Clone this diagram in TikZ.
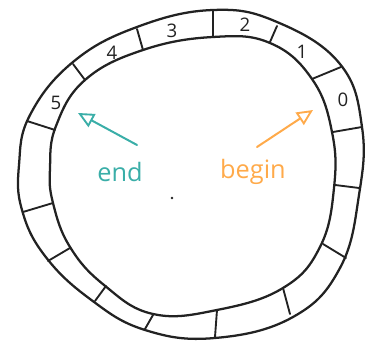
\documentclass[tikz,border=0pt]{standalone}
\usepackage{fontspec}
\setmainfont{Open Sans}
\usetikzlibrary{arrows.meta}
\definecolor{ink}{HTML}{222222}
\definecolor{tealc}{HTML}{3AAEA8}
\definecolor{orangec}{HTML}{FFAA4A}
\tikzset{
  ring/.style={draw=ink, line width=1.7pt, line join=round},
  tick/.style={draw=ink, line width=1.4pt, line cap=round},
  digit/.style={text=ink, font=\fontsize{14}{14}\selectfont},
  ptr/.style={line width=1.5pt, line cap=round, -{Triangle[open, length=12pt, width=11pt, line width=1.4pt]}},
  word/.style={font=\fontsize{19}{19}\selectfont}
}
\begin{document}
\begin{tikzpicture}[x=0.75pt,y=-0.75pt]
\useasboundingbox (0,0) rectangle (365,341);
% outer ring
\draw[ring] plot[smooth cycle, tension=0.7] coordinates {
 (213,10) (277,22) (340,64) (362,127) (359,195) (340,268) (293,317) (215,338)
 (145,330) (90,299) (45,256) (22,210) (19,165) (30,115) (73,62) (137,27)};
% inner ring
\draw[ring] plot[smooth cycle, tension=0.7] coordinates {
 (213,37) (270,43) (312,79) (332,132) (334,188) (320,247) (283,288) (217,310)
 (153,314) (104,285) (70,247) (53,203) (50,168) (56,126) (85,80) (143,50)};
% ticks
\draw[tick] (213,11) -- (213,37);
\draw[tick] (277,26) -- (270,42);
\draw[tick] (341,67) -- (312,79);
\draw[tick] (362,127) -- (333,132);
\draw[tick] (359,188) -- (335,185);
\draw[tick] (346,258) -- (323,244);
\draw[tick] (290,314) -- (283,288);
\draw[tick] (215,337) -- (217,310);
\draw[tick] (145,329) -- (153,315);
\draw[tick] (95,301) -- (106,286);
\draw[tick] (48,261) -- (70,248);
\draw[tick] (23,212) -- (53,203);
\draw[tick] (27,121) -- (55,130);
\draw[tick] (73,64) -- (85,80);
\draw[tick] (137,29) -- (143,50);
% labels
\node[digit] (l0) at (343,100) {0};
\node[digit] (l1) at (302,52) {1};
\node[digit] (l2) at (245,25) {2};
\node[digit] (l3) at (172,31) {3};
\node[digit] (l4) at (112,53) {4};
\node[digit] (l5) at (56,103) {5};
% pointers
\node[word, text=tealc] (endw) at (120,172) {end};
\node[word, text=orangec] (beginw) at (253,172) {begin};
\coordinate (es) at (137,145);
\coordinate (et) at (78,113);
\coordinate (bs) at (257,147);
\coordinate (bt) at (313,110);
\draw[ptr, tealc] (es) -- (et);
\draw[ptr, orangec] (bs) -- (bt);
% center dot
\fill[ink] (172,198) circle (1.3);
\end{tikzpicture}
\end{document}
